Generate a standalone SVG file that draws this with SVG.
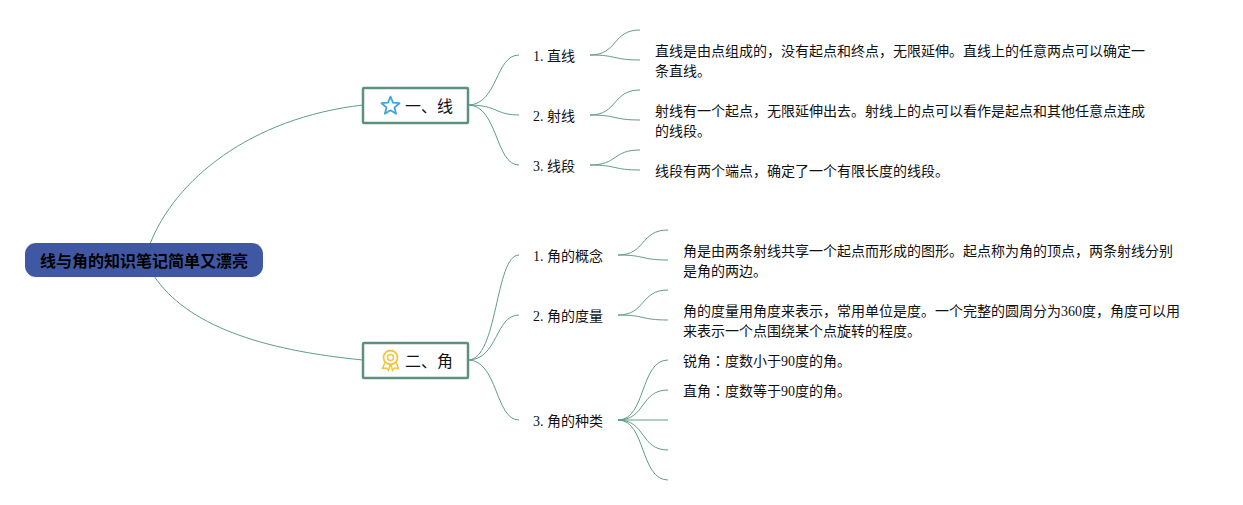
<svg xmlns="http://www.w3.org/2000/svg" width="1243" height="505" viewBox="0 0 1243 505">
<style>
text{font-family:"Liberation Serif","Noto Sans CJK SC",serif;font-size:14px;fill:#111}
.c{fill:none;stroke:#5f9c89;stroke-width:1}
.t{fill:#fff;stroke:#5c9080;stroke-width:2.5}
.h{font-size:16px}
.r{font-family:"Noto Sans CJK SC","Liberation Sans",sans-serif;font-size:16px;font-weight:700;fill:#000}
.k{font-family:"Noto Sans CJK TC",sans-serif}
</style>
<rect width="1243" height="505" fill="#fff"/>
<g id="connectors">
<path class="c" d="M150 244C175 180 250 118 363 105"/>
<path class="c" d="M154 276C187 325 260 350 363 360"/>
<path class="c" d="M468 105C498 105 495 55 519 55"/>
<path class="c" d="M468 105C498 105 495 115 519 115"/>
<path class="c" d="M468 105C498 105 495 165 519 165"/>
<path class="c" d="M468 360C498 360 495 255 519 255"/>
<path class="c" d="M468 360C498 360 495 315 519 315"/>
<path class="c" d="M468 360C498 360 495 420 519 420"/>
<path class="c" d="M590 55C618 55 612 30 640 30"/>
<path class="c" d="M590 55C618 55 612 60 640 60"/>
<path class="c" d="M590 115C618 115 612 90 640 90"/>
<path class="c" d="M590 115C618 115 612 120 640 120"/>
<path class="c" d="M590 165C618 165 612 150 640 150"/>
<path class="c" d="M590 165C618 165 612 170 640 170"/>
<path class="c" d="M618 255C646 255 640 230 668 230"/>
<path class="c" d="M618 255C646 255 640 260 668 260"/>
<path class="c" d="M618 315C646 315 640 290 668 290"/>
<path class="c" d="M618 315C646 315 640 320 668 320"/>
<path class="c" d="M618 420C646 420 640 360 668 360"/>
<path class="c" d="M618 420C646 420 640 390 668 390"/>
<path class="c" d="M618 420H668"/>
<path class="c" d="M618 420C646 420 640 450 668 450"/>
<path class="c" d="M618 420C646 420 640 480 668 480"/>
</g>
<g id="root"><rect x="25" y="243" width="238" height="34" rx="11" fill="#4058a3"/><text class="r" x="144" y="266.500" text-anchor="middle">线与角的知识笔记简单又漂亮</text></g>
<g id="topic1"><rect class="t" x="363" y="88" width="105" height="35" rx="1"/>
<path d="M390.500 96.500L393 102.700L399.500 103.200L394.500 107.400L396.100 113.700L390.500 110.300L384.900 113.700L386.500 107.400L381.500 103.200L388 102.700Z" fill="none" stroke="#3fa3dc" stroke-width="1.800" stroke-linejoin="round"/>
<text class="h" x="405" y="112">一、线</text></g>
<g id="topic2"><rect class="t" x="363" y="343" width="105" height="35" rx="1"/>
<circle cx="390.500" cy="357.500" r="7" fill="none" stroke="#f5c542" stroke-width="1.800"/><circle cx="390.500" cy="357.500" r="3" fill="none" stroke="#f5c542" stroke-width="1.500"/>
<path d="M385 362L382.500 368.500L386.500 368L388.500 370.500L390 365M396 362L398.500 368.500L394.500 368L392.500 370.500L391 365" fill="none" stroke="#f5c542" stroke-width="1.500"/>
<text class="h" x="405" y="367">二、角</text></g>
<g id="n1"><text x="533" y="61">1. 直线</text></g>
<g id="n2"><text x="533" y="121">2. 射线</text></g>
<g id="n3"><text x="533" y="171">3. 线段</text></g>
<g id="n4"><text x="533" y="261">1. 角的概念</text></g>
<g id="n5"><text x="533" y="321">2. 角的度量</text></g>
<g id="n6"><text x="533" y="426">3. 角的种类</text></g>
<g id="d1"><text x="655" y="56">直线是由点组成的，没有起点和终点，无限延伸。直线上的任意两点可以确定一</text><text x="655" y="76">条直线。</text></g>
<g id="d2"><text x="655" y="116">射线有一个起点，无限延伸出去。射线上的点可以看作是起点和其他任意点连成</text><text x="655" y="136">的线段。</text></g>
<g id="d3"><text x="655" y="176">线段有两个端点，确定了一个有限长度的线段。</text></g>
<g id="d4"><text x="683" y="256">角是由两条射线共享一个起点而形成的图形。起点称为角的顶点，两条射线分别</text><text x="683" y="276">是角的两边。</text></g>
<g id="d5"><text x="683" y="316">角的度量用角度来表示，常用单位是度。一个完整的圆周分为360度，角度可以用</text><text x="683" y="336">来表示一个点围绕某个点旋转的程度。</text></g>
<g id="d6"><text x="683" y="366">锐角<tspan class="k">：</tspan>度数小于90度的角。</text></g>
<g id="d7"><text x="683" y="396">直角<tspan class="k">：</tspan>度数等于90度的角。</text></g>
</svg>
